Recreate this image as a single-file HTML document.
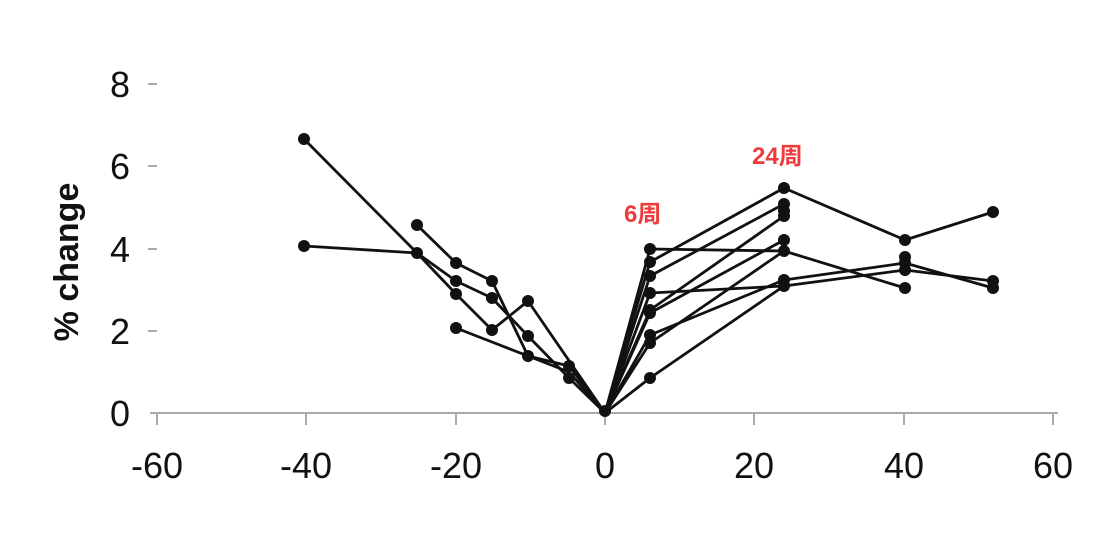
<!DOCTYPE html>
<html><head><meta charset="utf-8"><style>body{margin:0;background:#fff}</style></head><body>
<svg width="1094" height="532" xmlns="http://www.w3.org/2000/svg" font-family="Liberation Sans, sans-serif">
<rect width="1094" height="532" fill="#fff"/>
<g stroke="#aaa" stroke-width="2">
<line x1="150" y1="413" x2="1058" y2="413"/>
<line x1="157" y1="413" x2="157" y2="425"/><line x1="306" y1="413" x2="306" y2="425"/><line x1="456" y1="413" x2="456" y2="425"/><line x1="605" y1="413" x2="605" y2="425"/><line x1="754" y1="413" x2="754" y2="425"/><line x1="904" y1="413" x2="904" y2="425"/><line x1="1053" y1="413" x2="1053" y2="425"/>
<line x1="148" y1="84" x2="157" y2="84"/><line x1="148" y1="166" x2="157" y2="166"/><line x1="148" y1="249" x2="157" y2="249"/><line x1="148" y1="331" x2="157" y2="331"/>
</g>
<g font-size="36" fill="#111" text-anchor="middle">
<text x="157" y="478">-60</text><text x="306" y="478">-40</text><text x="456" y="478">-20</text><text x="605" y="478">0</text><text x="754" y="478">20</text><text x="904" y="478">40</text><text x="1053" y="478">60</text>
</g>
<g font-size="36" fill="#111" text-anchor="end">
<text x="130" y="97">8</text><text x="130" y="179">6</text><text x="130" y="262">4</text><text x="130" y="344">2</text><text x="130" y="426">0</text>
</g>
<text transform="translate(78,262) rotate(-90)" font-size="34" font-weight="bold" text-anchor="middle" fill="#111">% change</text>
<g font-family="Liberation Sans, Noto Sans CJK SC, sans-serif" font-size="24" font-weight="bold" fill="#ee3b3b">
<text x="624" y="222">6周</text><text x="752" y="164">24周</text>
</g>
<g fill="none" stroke="#111" stroke-width="2.8" stroke-linejoin="round">
<polyline points="304,139 417,253 456,294 492,330 528,301 605,413"/>
<polyline points="304,246 417,253 456,281 492,298 528,336 569,378 605,413"/>
<polyline points="417,225 456,263 492,281 528,356 569,366 605,413"/>
<polyline points="456,328 528,356 569,372 605,413"/>
<polyline points="605,413 650,249 784,251 905,288"/>
<polyline points="605,413 650,262 784,188 905,240 993,212"/>
<polyline points="605,413 650,276 784,204"/>
<polyline points="605,413 650,310 784,216"/>
<polyline points="605,413 650,313 784,240"/>
<polyline points="605,413 650,335 784,280 905,263 993,288"/>
<polyline points="605,413 650,343 784,251"/>
<polyline points="605,413 650,378 784,286 905,270 993,281"/>
<polyline points="605,413 650,293 784,286"/>
</g>
<g fill="#111">
<circle cx="304" cy="139" r="6"/><circle cx="304" cy="246" r="6"/><circle cx="417" cy="225" r="6"/><circle cx="417" cy="253" r="6"/>
<circle cx="456" cy="263" r="6"/><circle cx="456" cy="281" r="6"/><circle cx="456" cy="294" r="6"/><circle cx="456" cy="328" r="6"/>
<circle cx="492" cy="281" r="6"/><circle cx="492" cy="298" r="6"/><circle cx="492" cy="330" r="6"/>
<circle cx="528" cy="301" r="6"/><circle cx="528" cy="336" r="6"/><circle cx="528" cy="356" r="6"/>
<circle cx="569" cy="366" r="6"/><circle cx="569" cy="378" r="6"/><circle cx="605" cy="411" r="6"/>
<circle cx="650" cy="249" r="6"/><circle cx="650" cy="262" r="6"/><circle cx="650" cy="276" r="6"/><circle cx="650" cy="293" r="6"/><circle cx="650" cy="310" r="6"/><circle cx="650" cy="313" r="6"/><circle cx="650" cy="335" r="6"/><circle cx="650" cy="343" r="6"/><circle cx="650" cy="378" r="6"/>
<circle cx="784" cy="188" r="6"/><circle cx="784" cy="204" r="6"/><circle cx="784" cy="211" r="6"/><circle cx="784" cy="216" r="6"/><circle cx="784" cy="240" r="6"/><circle cx="784" cy="251" r="6"/><circle cx="784" cy="280" r="6"/><circle cx="784" cy="286" r="6"/>
<circle cx="905" cy="240" r="6"/><circle cx="905" cy="257" r="6"/><circle cx="905" cy="263" r="6"/><circle cx="905" cy="270" r="6"/><circle cx="905" cy="288" r="6"/>
<circle cx="993" cy="212" r="6"/><circle cx="993" cy="281" r="6"/><circle cx="993" cy="288" r="6"/>
</g>
</svg>
</body></html>
